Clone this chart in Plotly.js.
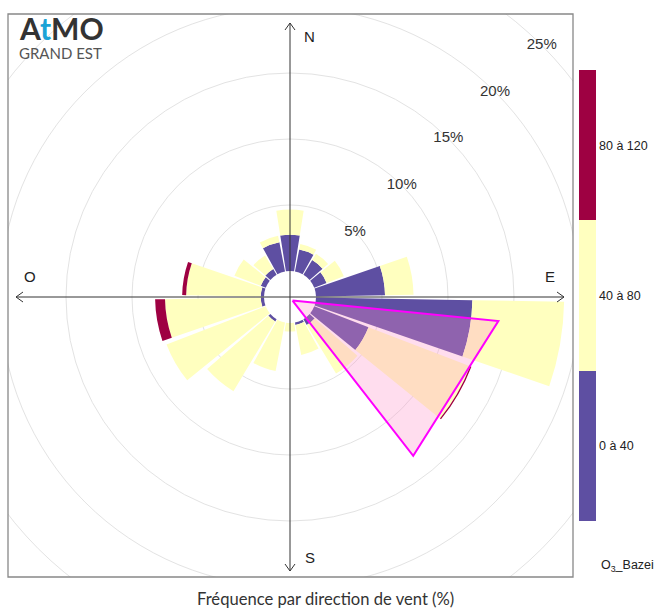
<!DOCTYPE html>
<html><head><meta charset="utf-8">
<script src="https://cdn.plot.ly/plotly-3.0.1.min.js"></script>
<style>
html,body{margin:0;padding:0;overflow:hidden;background:#fff;width:657px;height:610px;}
#wrap{position:relative;width:657px;height:610px;overflow:hidden;}
#chart{position:absolute;left:-79px;top:-72px;width:740px;height:740px;}
</style>
</head><body><div id="wrap"><div id="chart"></div></div>
<script>
// ---- data (frequency in % per wind direction, by O3 class) ----
const directions = [0,20,40,60,80,100,120,140,160,180,200,220,240,260,280,300,320,340];
const o3_0_40   = [2.75,1.7,1.3,1.0,5.23,11.85,4.4,0.5,0.2,0,0,0.2,0,0.25,0.25,0.4,0.5,2.25];
const o3_40_80  = [1.9,0.42,0.55,1.4,2.16,6.95,8.25,4.3,2.3,0.65,3.75,6.15,8.05,7.25,5.65,2.14,1.2,0.5];
const o3_80_120 = [0,0,0,0,0,0,0.1,0,0,0,0,0,0,0.75,0.3,0,0,0];
const classLabels = ['0 à 40','40 à 80','80 à 120'];
const classMid = [20,60,100];
const classColors = ['#5E4FA2','#FFFFBF','#9E0142'];
const gridTicks = [5,10,15,20,25];
const gridLabels = ['5%','10%','15%','20%','25%'];
const compassLabels = ['N','E','S','O'];
const compassAngles = [0,90,180,270];
// highlighted sector (triangle) in (r %, direction °)
const sectorR = [-1.64,13.92,13.26,-1.64];
const sectorTheta = [144.5,96.6,142.2,144.5];
const stationName = 'O<sub>3</sub>_Bazei';
const xTitle = 'Fréquence par direction de vent (%)';

// ---- geometry ----
const W = 740, H = 740, OFFX = 79, OFFY = 72;   // plot div offset in page
const CX = 290, CY = 297;                       // centre of rose in page px
const HOLE = 26, K = 13.2;                      // px of inner hole, px per %
const RAD = 369;                                // polar radius in px
const rmin = -HOLE / K, rmax = (RAD - HOLE) / K;
const TIP = 274;                                // compass arrow length, px
const AX = (TIP - HOLE) / K;
const ARM_R = (Math.hypot(TIP - 7, 5) - HOLE) / K;
const ARM_T = Math.atan(5 / (TIP - 7)) * 180 / Math.PI;
const px = x => (x + OFFX) / W;
const py = y => 1 - (y + OFFY) / H;
const BOX = {x0: 8, x1: 573, y0: 14, y1: 577};

const series = [o3_0_40, o3_40_80, o3_80_120];
const cscale = [[0,classColors[0]],[1/3,classColors[0]],[1/3,classColors[1]],[2/3,classColors[1]],[2/3,classColors[2]],[1,classColors[2]]];

const traces = [];
// compass axis lines with open arrow heads (below bars)
const axR = [AX, rmin+1e-4, AX, null, AX, rmin+1e-4, AX];
const axT = [270, 0, 90, null, 0, 0, 180];
compassAngles.forEach(a => { axR.push(null, ARM_R, AX, ARM_R); axT.push(null, a - ARM_T, a, a + ARM_T); });
traces.push({type:'scatterpolar', mode:'lines', r:axR, theta:axT,
  line:{color:'#333', width:1}, hoverinfo:'skip', showlegend:false});
series.forEach((s, i) => {
  const t = {type:'barpolar', r:s, theta:directions, width:18, name:classLabels[i],
    marker:{color:directions.map(() => classMid[i]), colorscale:cscale, cmin:0, cmax:120,
      line:{width:0}, showscale: i === 0}, hoverinfo:'skip'};
  if (i === 0) {
    t.marker.colorbar = {x: px(578.7), xanchor:'left', xpad:0, y: py((70+521)/2), yanchor:'middle', ypad:0,
      len:451, lenmode:'pixels', thickness:17, thicknessmode:'pixels', outlinewidth:0,
      tickvals:classMid, ticktext:classLabels, ticks:'',
      tickfont:{family:'Liberation Sans, Arial, sans-serif', size:12.5, color:'#222'}};
  }
  traces.push(t);
});
// highlighted sector
traces.push({type:'scatterpolar', mode:'lines', r:sectorR, theta:sectorTheta, fill:'toself',
  fillcolor:'rgba(255,145,200,0.31)', line:{color:'#FF00FF', width:2}, hoverinfo:'skip', showlegend:false});
// grid labels
traces.push({type:'scatterpolar', mode:'text', r:gridTicks, theta:gridTicks.map(() => 45), text:gridLabels,
  textposition:'middle center', textfont:{family:'Liberation Sans, Arial, sans-serif', size:15, color:'#333'},
  hoverinfo:'skip', showlegend:false});

const annotations = [];
compassLabels.forEach((lab, i) => {
  const a = compassAngles[i] * Math.PI / 180;
  const s = Math.sin(a), c = Math.cos(a);
  // label: 260 px along the axis, 20 px off to the right/top side
  const vertical = (i === 0 || i === 2);
  const lx = vertical ? CX + 20 : CX + 260 * s;
  const ly = vertical ? CY - 260 * c : CY - 20;
  annotations.push({xref:'paper', yref:'paper', x:px(lx), y:py(ly), xanchor:'center', yanchor:'middle',
    text:lab, showarrow:false, font:{family:'Liberation Sans, Arial, sans-serif', size:15, color:'#222'}});
});
annotations.push({xref:'paper', yref:'paper', x:px(17), y:py(28), xanchor:'left', yanchor:'middle',
  text:'<b>A<span style="color:#1BA3D6">t</span>MO</b>', showarrow:false,
  font:{family:'Lato, Open Sans, sans-serif', size:30, color:'#333'}});
annotations.push({xref:'paper', yref:'paper', x:px(17), y:py(53), xanchor:'left', yanchor:'middle',
  text:'GRAND EST', showarrow:false, font:{family:'Lato, Open Sans, sans-serif', size:15, color:'#555'}});
annotations.push({xref:'paper', yref:'paper', x:px(326), y:py(599), xanchor:'center', yanchor:'middle',
  text:xTitle, showarrow:false, font:{family:'Lato, Open Sans, sans-serif', size:16.6, color:'#333'}});
annotations.push({xref:'paper', yref:'paper', x:px(599), y:py(566), xanchor:'left', yanchor:'middle',
  text:stationName, showarrow:false, font:{family:'Liberation Sans, Arial, sans-serif', size:12.5, color:'#222'}});

const white = {type:'rect', xref:'paper', yref:'paper', fillcolor:'#fff', line:{width:0}, layer:'above'};
const shapes = [
  Object.assign({}, white, {x0:0, x1:px(BOX.x0), y0:0, y1:1}),
  Object.assign({}, white, {x0:px(BOX.x1), x1:1, y0:0, y1:1}),
  Object.assign({}, white, {x0:0, x1:1, y0:py(BOX.y0), y1:1}),
  Object.assign({}, white, {x0:0, x1:1, y0:0, y1:py(BOX.y1)}),
  {type:'rect', xref:'paper', yref:'paper', x0:px(BOX.x0), x1:px(BOX.x1), y0:py(BOX.y1), y1:py(BOX.y0),
    line:{color:'#888', width:1.3}, fillcolor:'rgba(0,0,0,0)', layer:'above'}
];

const layout = {
  width:W, height:H, margin:{l:0, r:0, t:0, b:0, pad:0}, showlegend:false,
  paper_bgcolor:'#fff',
  polar:{
    domain:{x:[0, 2*RAD/W], y:[1 - 2*RAD/H, 1]}, bgcolor:'rgba(0,0,0,0)', hole:0, barmode:'stack',
    angularaxis:{rotation:90, direction:'clockwise', showgrid:false, showline:false, showticklabels:false, ticks:''},
    radialaxis:{range:[rmin, rmax], tickvals:gridTicks, showticklabels:false, ticks:'', showline:false,
      gridcolor:'#e3e3e3', gridwidth:1}
  },
  annotations, shapes
};
Plotly.newPlot('chart', traces, layout, {staticPlot:true, displayModeBar:false});
</script>
</body></html>
